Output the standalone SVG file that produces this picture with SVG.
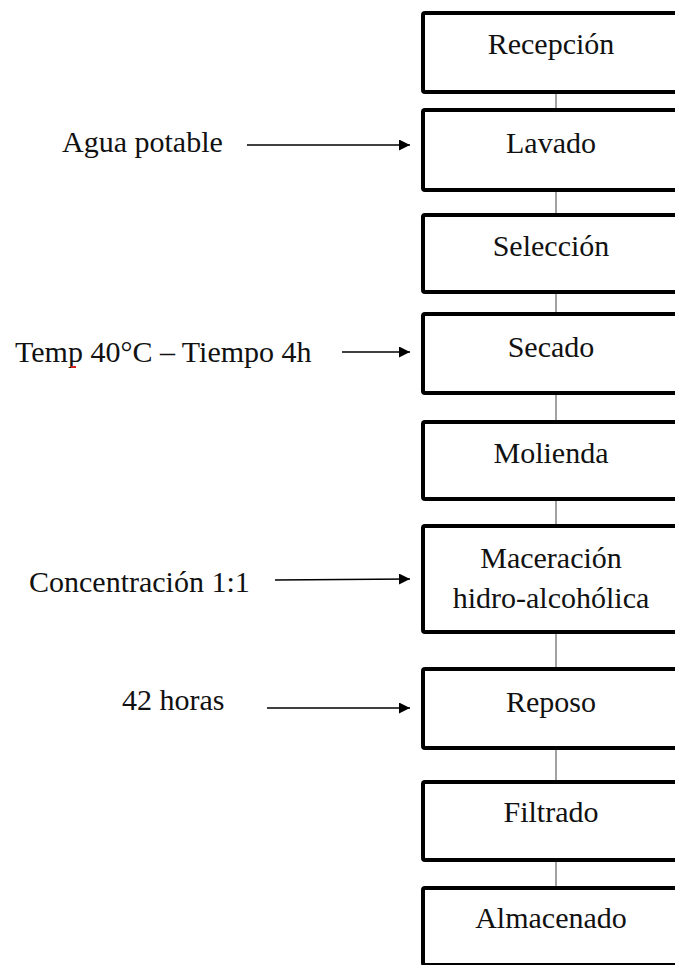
<svg xmlns="http://www.w3.org/2000/svg" width="675" height="965" viewBox="0 0 675 965">
  <style>
    .box { fill: #ffffff; stroke: #000000; stroke-width: 4; }
    .t { font-family: "Liberation Serif", "Times New Roman", serif; font-size: 30px; fill: #111111; }
    .c { text-anchor: middle; }
    .link { stroke: #707070; stroke-width: 1.3; fill: none; }
    .feed { stroke: #000000; stroke-width: 1.5; fill: none; marker-end: url(#arrow); }
  </style>
  <defs>
    <marker id="arrow" viewBox="0 0 10 10" refX="10" refY="5" markerWidth="13" markerHeight="11" markerUnits="userSpaceOnUse" orient="auto">
      <path d="M0,0 L10,5 L0,10 z" fill="#000000"/>
    </marker>
  </defs>
  <rect width="675" height="965" fill="#ffffff"/>

  <!-- vertical links between process steps -->
  <g id="connectors">
    <line class="link" x1="556" y1="92" x2="556" y2="110"/>
    <line class="link" x1="556" y1="190" x2="556" y2="215"/>
    <line class="link" x1="556" y1="292" x2="556" y2="314"/>
    <line class="link" x1="556" y1="393" x2="556" y2="422"/>
    <line class="link" x1="556" y1="499" x2="556" y2="526"/>
    <line class="link" x1="556" y1="632" x2="556" y2="669"/>
    <line class="link" x1="556" y1="748" x2="556" y2="782"/>
    <line class="link" x1="556" y1="860" x2="556" y2="888"/>
    <!-- input arrows -->
    <line class="feed" x1="247" y1="145" x2="410" y2="145"/>
    <line class="feed" x1="342" y1="352" x2="410" y2="352"/>
    <line class="feed" x1="275" y1="580" x2="410" y2="579"/>
    <line class="feed" x1="267" y1="708" x2="410" y2="708"/>
  </g>

  <!-- process steps -->
  <g id="recepcion">
    <rect class="box" x="423" y="13" width="265" height="79" rx="2"/>
    <text class="t c" x="551" y="54">Recepción</text>
  </g>
  <g id="lavado">
    <rect class="box" x="423" y="110" width="265" height="80" rx="2"/>
    <text class="t c" x="551" y="153">Lavado</text>
  </g>
  <g id="seleccion">
    <rect class="box" x="423" y="215" width="265" height="77" rx="2"/>
    <text class="t c" x="551" y="256">Selección</text>
  </g>
  <g id="secado">
    <rect class="box" x="423" y="314" width="265" height="79" rx="2"/>
    <text class="t c" x="551" y="357">Secado</text>
  </g>
  <g id="molienda">
    <rect class="box" x="423" y="422" width="265" height="77" rx="2"/>
    <text class="t c" x="551" y="463">Molienda</text>
  </g>
  <g id="maceracion">
    <rect class="box" x="423" y="526" width="265" height="106" rx="2"/>
    <text class="t c" x="551" y="568">Maceración</text>
    <text class="t c" x="551" y="608">hidro-alcohólica</text>
  </g>
  <g id="reposo">
    <rect class="box" x="423" y="669" width="265" height="79" rx="2"/>
    <text class="t c" x="551" y="712">Reposo</text>
  </g>
  <g id="filtrado">
    <rect class="box" x="423" y="782" width="265" height="78" rx="2"/>
    <text class="t c" x="551" y="822">Filtrado</text>
  </g>
  <g id="almacenado">
    <rect class="box" x="423" y="888" width="265" height="77" rx="2"/>
    <text class="t c" x="551" y="928">Almacenado</text>
  </g>

  <!-- input conditions -->
  <g id="agua">
    <text class="t" x="62" y="152">Agua potable</text>
  </g>
  <g id="temp">
    <text class="t" x="15" y="362">Temp 40°C – Tiempo 4h</text>
    <rect x="71" y="366" width="5" height="2" fill="#d42020"/>
  </g>
  <g id="concentracion">
    <text class="t" x="29" y="592">Concentración 1:1</text>
  </g>
  <g id="horas">
    <text class="t" x="122" y="710">42 horas</text>
  </g>
</svg>
